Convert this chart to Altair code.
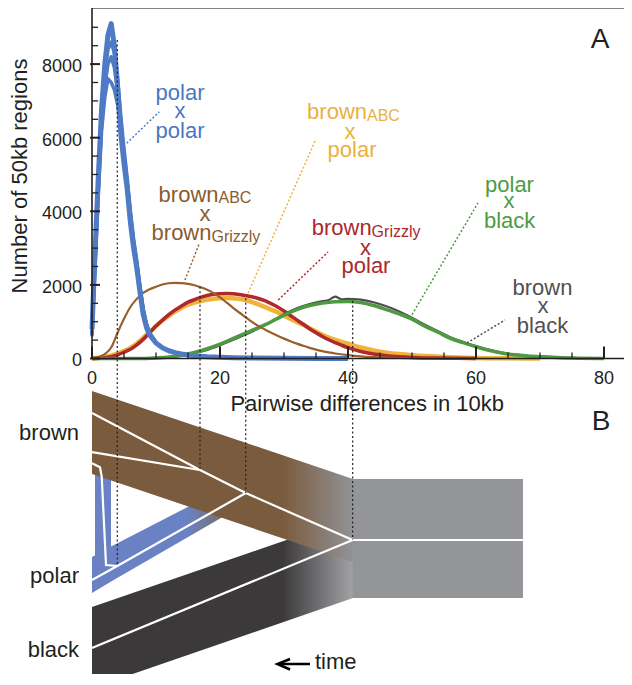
import altair as alt
import pandas as pd

FONT = "Liberation Sans"
INK = "#231f20"
BLUE = "#4f7bc6"
YELLOW = "#efb23a"
RED = "#b0282b"
GREEN = "#4d9a41"
DGRAY = "#4d4d4f"
BROWN = "#9a5f2a"
T_BLUE = "#4a77c4"
T_YELLOW = "#eab13e"
T_BROWN = "#8c5b2d"
T_RED = "#a82a2c"
T_GREEN = "#4b9b41"
T_GRAY = "#505052"

W, H = 532, 666
X_DOMAIN = [0, 83.125]
Y_DOMAIN = [-8573, 9524]

# ---------------- Panel A data (x: pairwise differences in 10kb, y: number of 50kb regions)
pp_x = [0, 0.5, 1, 1.5, 2, 2.5, 3, 3.5, 4, 4.5, 5, 5.5, 6, 6.5, 7, 7.5, 8, 8.5, 9, 10, 11, 12, 13, 14, 15, 16, 18, 20, 22, 25, 30, 35, 40]
pp_y = [800, 3000, 5000, 6800, 8000, 8800, 9100, 8500, 7400, 6100, 5300, 4600, 3700, 3000, 2450, 1800, 1200, 850, 640, 420, 290, 210, 160, 125, 95, 75, 50, 35, 22, 12, 5, 2, 0]
pp_rep_x = [0, 0.5, 1, 1.5, 2, 2.5, 3, 3.5, 4, 4.5, 5, 5.5, 6, 6.5, 7, 7.5, 8, 8.5, 9, 10]
pp_rep1_y = [700, 2800, 4800, 6500, 7700, 8400, 8600, 8300, 7600, 6600, 5700, 4900, 4000, 3250, 2650, 1950, 1350, 950, 700, 440]
pp_rep2_y = [650, 2700, 4650, 6350, 7400, 8000, 8200, 7900, 7250, 6400, 5600, 4800, 3950, 3200, 2600, 1920, 1320, 930, 690, 435]
pp_rep3_y = [600, 2600, 4500, 6200, 7100, 7600, 7500, 7300, 6900, 6300, 5500, 4750, 3900, 3150, 2550, 1900, 1300, 920, 680, 430]

bg_x = [0, 1, 2, 3, 4, 5, 6, 7, 8, 9, 10, 11, 12, 13, 14, 15, 16, 17, 18, 19, 20, 21, 22, 23, 24, 25, 26, 27, 28, 29, 30, 31, 32, 33, 34, 35, 36, 37, 38, 40, 42, 44, 46, 48, 50, 55, 60]
bg_y = [0, 40, 120, 300, 700, 1080, 1400, 1620, 1780, 1880, 1950, 2010, 2045, 2055, 2050, 2030, 1990, 1935, 1865, 1775, 1660, 1525, 1385, 1250, 1125, 995, 885, 790, 700, 615, 540, 470, 405, 345, 290, 240, 200, 165, 135, 90, 57, 36, 22, 13, 7, 2, 0]

rp_x = [0, 2, 4, 5, 6, 7, 8, 9, 10, 11, 12, 13, 14, 15, 16, 17, 18, 19, 20, 21, 22, 23, 24, 25, 26, 27, 28, 29, 30, 31, 32, 33, 34, 35, 36, 37, 38, 39, 40, 42, 44, 46, 48, 50, 53, 56, 60]
rp_y = [0, 20, 100, 170, 250, 370, 520, 700, 880, 1040, 1190, 1320, 1430, 1530, 1600, 1660, 1710, 1745, 1760, 1765, 1760, 1740, 1710, 1680, 1630, 1570, 1490, 1400, 1290, 1170, 1050, 930, 810, 700, 600, 510, 430, 360, 295, 190, 120, 75, 48, 30, 15, 6, 0]

yp_x = [0, 2, 4, 5, 6, 7, 8, 9, 10, 11, 12, 13, 14, 15, 16, 17, 18, 19, 20, 21, 22, 23, 24, 25, 26, 27, 28, 29, 30, 31, 32, 33, 34, 35, 36, 37, 38, 39, 40, 42, 44, 46, 48, 50, 53, 56, 60, 65, 70]
yp_y = [0, 40, 130, 200, 290, 410, 560, 720, 880, 1030, 1160, 1280, 1380, 1460, 1520, 1560, 1600, 1625, 1640, 1645, 1640, 1620, 1590, 1530, 1470, 1400, 1330, 1255, 1170, 1080, 990, 915, 820, 730, 645, 570, 505, 450, 400, 300, 220, 160, 120, 90, 60, 35, 15, 5, 0]

pb_x = [0, 8, 10, 12, 14, 16, 18, 20, 22, 24, 26, 28, 30, 32, 34, 36, 38, 40, 42, 44, 46, 48, 50, 52, 54, 56, 58, 60, 62, 64, 66, 68, 70, 72, 75, 80]
pb_y = [0, 0, 15, 40, 90, 165, 265, 390, 540, 690, 840, 1000, 1180, 1330, 1440, 1510, 1545, 1550, 1520, 1440, 1330, 1210, 1070, 880, 720, 545, 430, 320, 225, 150, 100, 70, 50, 35, 15, 3]

bb_x = [0, 8, 10, 12, 14, 16, 18, 20, 22, 24, 26, 28, 30, 32, 34, 36, 37, 38, 39, 40, 42, 44, 46, 48, 50, 52, 54, 56, 58, 60, 62, 64, 66, 68, 70, 72, 75, 80]
bb_y = [0, 0, 10, 30, 75, 145, 235, 360, 500, 650, 815, 990, 1200, 1365, 1480, 1560, 1590, 1680, 1610, 1620, 1600, 1530, 1420, 1280, 1110, 920, 750, 575, 450, 340, 240, 160, 110, 75, 55, 40, 20, 5]

# axes
x_major = [0, 20, 40, 60, 80]
x_minor = [5, 10, 15, 25, 30, 35, 45, 50, 55, 65, 70, 75]
y_major = [0, 2000, 4000, 6000, 8000]
y_minor = [500, 1000, 1500, 2500, 3000, 3500, 4500, 5000, 5500, 6500, 7000, 7500, 8500, 9000]
x_title = "Pairwise differences in 10kb"
y_title = "Number of 50kb regions"
x_title_pos = (43.0, 0)
y_title_pos = (-10.16, 4959)
y_label_x = -1.5625

# leader lines (dotted) from label to curve
lead_id = ["pp", "pp", "yp", "yp", "bg", "bg", "rp", "rp", "pb", "pb", "bb", "bb"]
lead_x = [5.42, 10.52, 35.0, 24.38, 16.77, 14.53, 36.88, 29.11, 60.31, 49.69, 64.53, 58.59]
lead_y = [5848, 6707, 5965, 1780, 3130, 2133, 2894, 1590, 4226, 1101, 1046, 421]
lead_col = [BLUE, BLUE, YELLOW, YELLOW, BROWN, BROWN, RED, RED, GREEN, GREEN, DGRAY, DGRAY]

# dotted verticals linking modes (A) with split times (B)
vline_x = [3.95, 16.875, 24.02, 40.73]
vline_top = [8655, 1950, 1640, 1560]
vline_bot = [-5638, -3030, -3655, -4932]

# ---------------- Panel B schematic (same x units; vertical in the shared y units)
brown_band_x = [0, 40.78]
brown_band_top = [-883, -3274]
brown_band_bot = [-3139, -5530]
black_band_x = [0, 40.78]
black_band_top = [-6753, -4307]
black_band_bot = [-8954, -6508]
blue_band_x = [0, 3.125, 23.125]
blue_band_top = [-5394, -5095, -3302]
blue_band_bot = [-6372, -6046, -4035]
blue_strip_x = [0.47, 2.97]
blue_strip_top = [-3000, -3000]
blue_strip_bot = [-5600, -5600]
anc_x = [40.73, 67.34]
anc_top = [-3274, -3274]
anc_bot = [-6508, -6508]

wl_id = ["brown"] * 4 + ["abc"] * 2 + ["polar"] * 3 + ["black"] * 2 + ["anc"] * 2 + ["pol2"] * 5
wl_x = [0, 16.875, 24.02, 40.73, 0, 16.875, 0, 3.95, 24.02, 0, 40.73, 40.73, 67.34, 0, 1.25, 1.52, 2.19, 3.95]
wl_y = [-1481, -3030, -3655, -4932, -2541, -3030, -6019, -5638, -3655, -7867, -4932, -4932, -4932, -2848, -2956, -3212, -5611, -5638]

arrow_id = ["shaft", "shaft", "head", "head", "head"]
arrow_x = [29.06, 34.06, 30.94, 28.98, 30.94]
arrow_y = [-8302, -8302, -8166, -8302, -8451]

# ---------------- Text
lab_c_text = ["polar", "x", "polar", "x", "polar", "x", "x", "polar", "polar", "x", "black", "brown", "x", "black", "A", "B"]
lab_c_x = [13.75, 13.75, 13.75, 40.31, 40.63, 17.66, 42.73, 42.81, 65.23, 65.16, 65.25, 70.39, 70.47, 70.39, 79.375, 79.53]
lab_c_y = [7025, 6522, 6005, 5965, 5462, 3745, 2813, 2315, 4533, 4082, 3538, 1726, 1228, 685, 8437, -1943]
lab_c_col = [T_BLUE] * 3 + [T_YELLOW] * 2 + [T_BROWN] + [T_RED] * 2 + [T_GREEN] * 3 + [T_GRAY] * 3 + [INK, INK]
lab_c_size = [22] * 14 + [28, 28]

lab_r_text = ["brown", "brown", "brown", "brown", "brown", "polar", "black"]
lab_r_x = [42.97, 19.77, 18.67, 43.69, -2.03, -2.03, -2.03]
lab_r_y = [6495, 4261, 3220, 3356, -2215, -6109, -8103]
lab_r_col = [T_YELLOW, T_BROWN, T_BROWN, T_RED, INK, INK, INK]

lab_l_text = ["ABC", "ABC", "Grizzly", "Grizzly", "time"]
lab_l_x = [42.97, 19.77, 18.67, 43.69, 34.84]
lab_l_y = [6454, 4226, 3179, 3315, -8438]
lab_l_col = [T_YELLOW, T_BROWN, T_BROWN, T_RED, INK]
lab_l_size = [16, 16, 16, 16, 22]

# ---------------- Build
xs = alt.Scale(domain=X_DOMAIN, nice=False, zero=False)
ys = alt.Scale(domain=Y_DOMAIN, nice=False, zero=False)


def X(f):
    return alt.X(f, scale=xs, axis=None)


def Y(f):
    return alt.Y(f, scale=ys, axis=None)


def grad(stops):
    return {"gradient": "linear", "x1": 0, "y1": 0, "x2": 1, "y2": 0,
            "stops": [{"offset": o, "color": c} for o, c in stops]}


def band(xv, top, bot, color):
    df = pd.DataFrame({"v": xv, "top": top, "bot": bot})
    return alt.Chart(df).mark_area(color=color, clip=True, interpolate="linear").encode(
        x=X("v:Q"), y=Y("top:Q"), y2="bot:Q")


layers = []
layers.append(band(black_band_x, black_band_top, black_band_bot,
                   grad([(0, "#3b393a"), (0.73, "#3b393a"), (1, "#a2a2a4")])))
layers.append(band(blue_band_x, blue_band_top, blue_band_bot,
                   grad([(0, "#6a82c3"), (0.64, "#6a82c3"), (0.92, "#7a6a63"), (1, "#7b5b3d")])))
layers.append(band(blue_strip_x, blue_strip_top, blue_strip_bot, "#6a82c3"))
layers.append(band(brown_band_x, brown_band_top, brown_band_bot,
                   grad([(0, "#7b5b3d"), (0.73, "#7b5b3d"), (1, "#919296")])))
layers.append(band(anc_x, anc_top, anc_bot, "#939598"))

wl_df = pd.DataFrame({"id": wl_id, "v": wl_x, "c": wl_y, "o": list(range(len(wl_x)))})
layers.append(alt.Chart(wl_df).mark_line(color="white", strokeWidth=2.2, clip=True).encode(
    x=X("v:Q"), y=Y("c:Q"), detail="id:N", order="o:Q"))

curves = [
    ("brownABC x polar", yp_x, yp_y, YELLOW, 4.5, "monotone"),
    ("brownGrizzly x polar", rp_x, rp_y, RED, 3.5, "monotone"),
    ("brown x black", bb_x, bb_y, DGRAY, 2.2, "monotone"),
    ("polar x black", pb_x, pb_y, GREEN, 3.5, "monotone"),
    ("brownABC x brownGrizzly", bg_x, bg_y, BROWN, 2.2, "monotone"),
    ("polar x polar r3", pp_rep_x, pp_rep3_y, BLUE, 3.5, "linear"),
    ("polar x polar r2", pp_rep_x, pp_rep2_y, BLUE, 3.5, "linear"),
    ("polar x polar r1", pp_rep_x, pp_rep1_y, BLUE, 3.5, "linear"),
    ("polar x polar", pp_x, pp_y, BLUE, 5, "linear"),
]
for name, xv, yv, col, sw, interp in curves:
    df = pd.DataFrame({"v": xv, "c": yv, "pair": name})
    layers.append(alt.Chart(df).mark_line(color=col, strokeWidth=sw, interpolate=interp,
                                          strokeJoin="round").encode(x=X("v:Q"), y=Y("c:Q")))

# frame, axis line and ticks
frame_df = pd.DataFrame({"v0": [0, 0, 0], "v1": [X_DOMAIN[1], 0, X_DOMAIN[1]],
                         "c0": [Y_DOMAIN[1], 0, 0], "c1": [Y_DOMAIN[1], Y_DOMAIN[1], 0],
                         "col": ["#58595b", INK, INK]})
layers.append(alt.Chart(frame_df).mark_rule(strokeWidth=1.6).encode(
    x=X("v0:Q"), x2="v1:Q", y=Y("c0:Q"), y2="c1:Q", color=alt.Color("col:N", scale=None)))

xt_df = pd.DataFrame({"v": x_major + x_minor,
                      "c0": [0] * (len(x_major) + len(x_minor)),
                      "c1": [326] * len(x_major) + [163] * len(x_minor),
                      "w": [2.0] * len(x_major) + [1.3] * len(x_minor)})
layers.append(alt.Chart(xt_df).mark_rule(color=INK).encode(
    x=X("v:Q"), y=Y("c0:Q"), y2="c1:Q", strokeWidth=alt.StrokeWidth("w:Q", scale=None)))
yt_df = pd.DataFrame({"c": y_major + y_minor,
                      "v0": [-0.3] * len(y_major) + [0] * len(y_minor),
                      "v1": [1.25] * len(y_major) + [0.95] * len(y_minor),
                      "w": [2.0] * len(y_major) + [1.3] * len(y_minor)})
layers.append(alt.Chart(yt_df).mark_rule(color=INK).encode(
    y=Y("c:Q"), x=X("v0:Q"), x2="v1:Q", strokeWidth=alt.StrokeWidth("w:Q", scale=None)))

# tick labels and axis titles
xl_df = pd.DataFrame({"v": x_major, "c": [0] * len(x_major), "t": [str(v) for v in x_major]})
layers.append(alt.Chart(xl_df).mark_text(font=FONT, fontSize=18, color=INK, align="center",
                                         baseline="alphabetic", dy=25.5).encode(
    x=X("v:Q"), y=Y("c:Q"), text="t:N"))
yl_df = pd.DataFrame({"v": [y_label_x] * len(y_major), "c": y_major, "t": [str(v) for v in y_major]})
layers.append(alt.Chart(yl_df).mark_text(font=FONT, fontSize=18, color=INK, align="right",
                                         baseline="alphabetic", dy=8).encode(
    x=X("v:Q"), y=Y("c:Q"), text="t:N"))
xti_df = pd.DataFrame({"v": [x_title_pos[0]], "c": [x_title_pos[1]], "t": [x_title]})
layers.append(alt.Chart(xti_df).mark_text(font=FONT, fontSize=22, color=INK, align="center",
                                          baseline="alphabetic", dy=53).encode(
    x=X("v:Q"), y=Y("c:Q"), text="t:N"))
yti_df = pd.DataFrame({"v": [y_title_pos[0]], "c": [y_title_pos[1]], "t": [y_title]})
layers.append(alt.Chart(yti_df).mark_text(font=FONT, fontSize=22, color=INK, align="center",
                                          baseline="alphabetic", angle=270).encode(
    x=X("v:Q"), y=Y("c:Q"), text="t:N"))

# leaders
lead_df = pd.DataFrame({"id": lead_id, "v": lead_x, "c": lead_y, "col": lead_col})
layers.append(alt.Chart(lead_df).mark_line(strokeWidth=1.5, strokeDash=[2, 2]).encode(
    x=X("v:Q"), y=Y("c:Q"), detail="id:N", color=alt.Color("col:N", scale=None)))

# dotted verticals
vl_df = pd.DataFrame({"v": vline_x, "c0": vline_top, "c1": vline_bot})
layers.append(alt.Chart(vl_df).mark_rule(color=INK, strokeWidth=1.2, strokeDash=[2, 2.5]).encode(
    x=X("v:Q"), y=Y("c0:Q"), y2="c1:Q"))

# time arrow
ar_df = pd.DataFrame({"id": arrow_id, "v": arrow_x, "c": arrow_y, "o": list(range(len(arrow_x)))})
layers.append(alt.Chart(ar_df).mark_line(color="black", strokeWidth=2.6, strokeJoin="miter").encode(
    x=X("v:Q"), y=Y("c:Q"), detail="id:N", order="o:Q"))


def texts(t, xv, yv, col, size, align):
    df = pd.DataFrame({"t": t, "v": xv, "c": yv, "col": col, "fs": size})
    return alt.Chart(df).mark_text(font=FONT, align=align, baseline="alphabetic").encode(
        x=X("v:Q"), y=Y("c:Q"), text="t:N",
        color=alt.Color("col:N", scale=None), size=alt.Size("fs:Q", scale=None))


layers.append(texts(lab_c_text, lab_c_x, lab_c_y, lab_c_col, lab_c_size, "center"))
layers.append(texts(lab_r_text, lab_r_x, lab_r_y, lab_r_col, [22] * len(lab_r_text), "right"))
layers.append(texts(lab_l_text, lab_l_x, lab_l_y, lab_l_col, lab_l_size, "left"))

chart = alt.layer(*layers).properties(
    width=W, height=H,
    autosize=alt.AutoSizeParams(type="none"),
    padding={"left": 84, "top": 0, "right": 0, "bottom": 0},
).configure_view(stroke=None)

chart.save("out.html", embed_options={"renderer": "svg", "actions": False})
